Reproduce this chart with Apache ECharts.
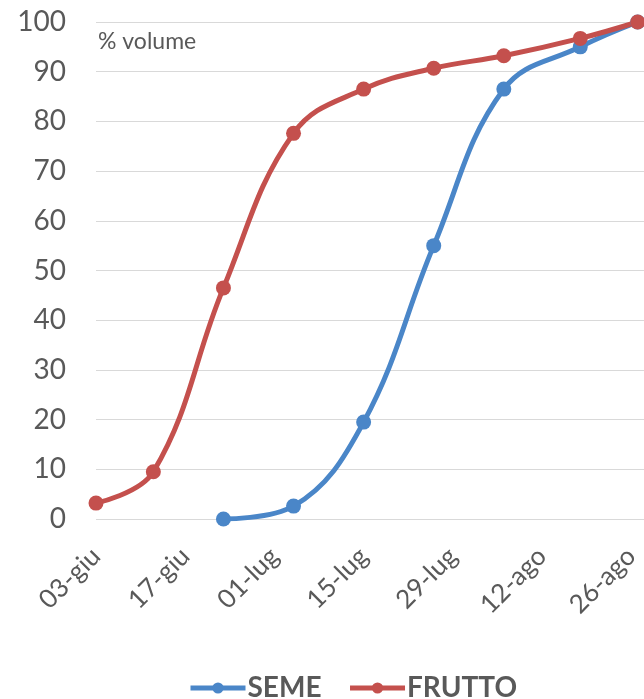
<!DOCTYPE html>
<html>
<head>
<meta charset="utf-8">
<script src="https://cdn.jsdelivr.net/npm/echarts@6/dist/echarts.min.js"></script>
<style>html,body{margin:0;padding:0;background:#fff;}#c{width:644px;height:699px;}</style>
</head>
<body>
<div id="c"></div>
<script>
const startDate = '2019-06-03';
const sampleDates = ['2019-06-03','2019-06-12','2019-06-23','2019-07-04','2019-07-15','2019-07-26','2019-08-06','2019-08-18','2019-08-27'];
const semeDates = ['2019-06-23','2019-07-04','2019-07-15','2019-07-26','2019-08-06','2019-08-18','2019-08-27'];
const semeValues = [0, 2.6, 19.5, 55, 86.5, 95, 100];
const fruttoValues = [3.2, 9.5, 46.5, 77.6, 86.5, 90.7, 93.2, 96.7, 100];
const xTickLabels = ['03-giu','17-giu','01-lug','15-lug','29-lug','12-ago','26-ago'];
const yTicks = [0,10,20,30,40,50,60,70,80,90,100];

const DAY = 86400000;
const t0 = Date.parse(startDate);
const dayOf = d => Math.round((Date.parse(d) - t0) / DAY);

const txt = '#595959';
const font = 'Lato, "Open Sans", sans-serif';
const blue = '#4A86C8', red = '#C4504D';

const chart = echarts.init(document.getElementById('c'), null, {renderer:'canvas'});
chart.setOption({
  animation: false,
  backgroundColor: '#fff',
  grid: {left: 96, right: 0, top: 22, bottom: 180},
  title: {text: '% volume', left: 93, top: 25, textStyle: {fontSize: 23, fontWeight: 'normal', color: txt, fontFamily: font}},
  legend: {
    left: 183, top: 669, itemWidth: 55, itemHeight: 14, itemGap: 26,
    data: [
      {name: 'SEME', lineStyle: {width: 5, color: blue}},
      {name: 'FRUTTO', lineStyle: {width: 5, color: red}}
    ],
    textStyle: {fontSize: 28, fontWeight: 'bold', color: txt, fontFamily: font, padding: [0,0,0,-3]}
  },
  xAxis: {
    type: 'value', min: 0, max: 86, interval: 14,
    axisLine: {show: false}, axisTick: {show: false}, splitLine: {show: false},
    axisLabel: {
      rotate: 45, margin: 33, fontSize: 26, color: txt, fontFamily: font,
      showMaxLabel: false,
      formatter: v => (v % 14 === 0 ? (xTickLabels[v / 14] || '') : '')
    }
  },
  yAxis: {
    type: 'value', min: yTicks[0], max: yTicks[yTicks.length-1], interval: 10,
    axisLine: {show: false}, axisTick: {show: false},
    splitLine: {lineStyle: {color: '#d9d9d9', width: 1}},
    axisLabel: {fontSize: 28, color: txt, fontFamily: font, margin: 30}
  },
  series: [
    {name: 'SEME', type: 'line', smooth: 0.4, symbol: 'circle', symbolSize: 15,
     itemStyle: {color: blue}, lineStyle: {width: 5, color: blue},
     data: semeDates.map((d,i) => [dayOf(d), semeValues[i]])},
    {name: 'FRUTTO', type: 'line', smooth: 0.4, symbol: 'circle', symbolSize: 15,
     itemStyle: {color: red}, lineStyle: {width: 5, color: red},
     data: sampleDates.map((d,i) => [dayOf(d), fruttoValues[i]])}
  ]
});
</script>
</body>
</html>
